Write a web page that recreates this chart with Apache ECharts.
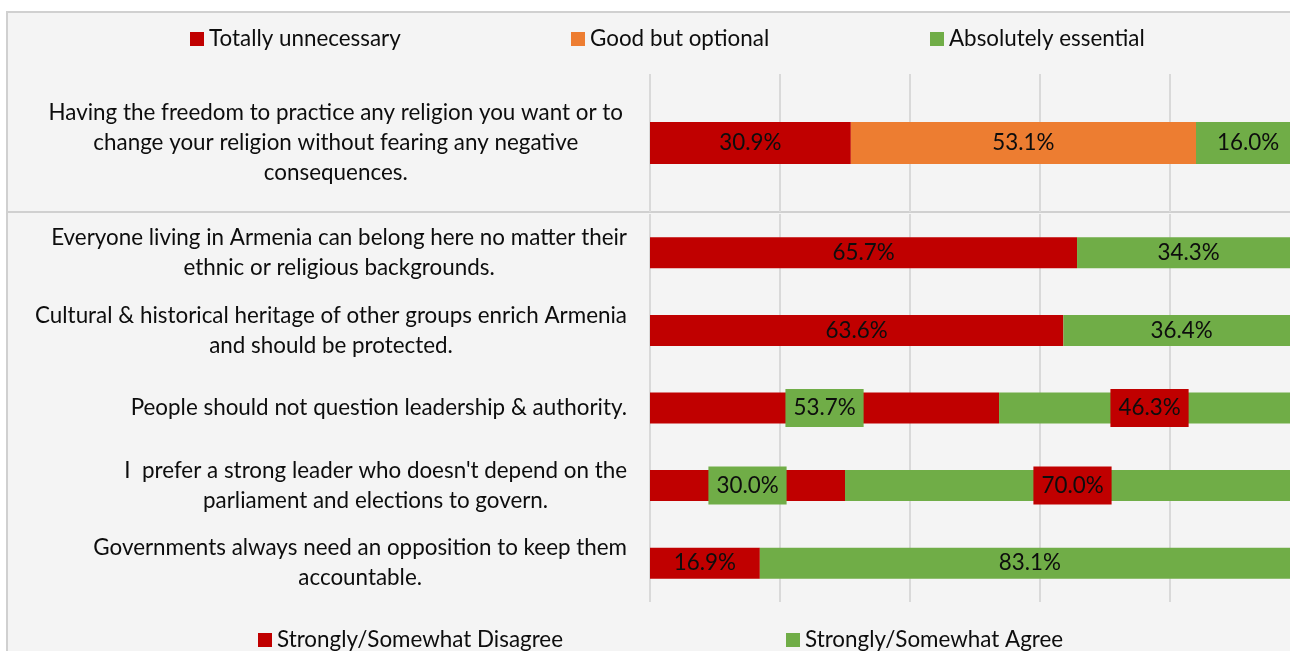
<!DOCTYPE html>
<html><head><meta charset="utf-8">
<script src="https://cdn.jsdelivr.net/npm/echarts@6/dist/echarts.min.js"></script>
<style>html,body{margin:0;padding:0;background:#fff;} #c{width:1290px;height:651px;}</style>
</head><body><div id="c"></div>
<script>
// ---- data ----
const topCategory = ['Having the freedom to practice any religion you want or to\nchange your religion without fearing any negative\nconsequences.'];
const topSeriesNames = ['Totally unnecessary', 'Good but optional', 'Absolutely essential'];
const topUnnecessary = [30.9];
const topOptional = [53.1];
const topEssential = [16.0];

const bottomCategories = [
  'Everyone living in Armenia can belong here no matter their\nethnic or religious backgrounds.',
  'Cultural & historical heritage of other groups enrich Armenia\nand should be protected.',
  'People should not question leadership & authority.',
  "I  prefer a strong leader who doesn't depend on the\nparliament and elections to govern.",
  'Governments always need an opposition to keep them\naccountable.'
];
const bottomSeriesNames = ['Strongly/Somewhat Disagree', 'Strongly/Somewhat Agree'];
const disagree = [65.7, 63.6, 53.7, 30.0, 16.9];
const agree = [34.3, 36.4, 46.3, 70.0, 83.1];
const swappedLabelRows = [2, 3];
const axisMin = 0, axisMax = 100, axisInterval = 20;

// ---- style ----
const RED = '#C00000', ORANGE = '#ED7D31', GREEN = '#70AD47';
const FONT = 'Lato';
const FS = 22.4;
const TXT = '#0d0d0d';
const GRIDC = '#d9d9d9';

const chart = echarts.init(document.getElementById('c'));

function catFormatter(v) {
  return v.split('\n').map(l => '{c|' + l + '}').join('\n');
}
const pct = p => Number(p.value).toFixed(1) + '%';

function xAxisCfg(idx) {
  return {
    type: 'value', gridIndex: idx, min: axisMin, max: axisMax, interval: axisInterval,
    axisLabel: {show: false}, axisTick: {show: false}, axisLine: {show: false},
    splitLine: {show: true, lineStyle: {color: GRIDC, width: 2}}
  };
}
function yAxisCfg(idx, cats, margin) {
  return {
    type: 'category', gridIndex: idx, data: cats, inverse: true,
    axisLine: {show: false}, axisTick: {show: false},
    axisLabel: {
      margin: margin, align: 'right', formatter: catFormatter,
      rich: {c: {align: 'center', fontSize: FS, lineHeight: 30, fontFamily: FONT, color: TXT}}
    }
  };
}
const barLabel = {show: true, position: 'inside', formatter: pct, color: TXT, fontSize: FS, fontFamily: FONT};

function swapped(values, bg) {
  return values.map((v, i) => swappedLabelRows.includes(i)
    ? {value: v, label: {backgroundColor: bg, padding: [5, 8], lineHeight: 28}}
    : v);
}

const legendBase = {
  icon: 'rect', itemWidth: 14, itemHeight: 14, padding: 0, selectedMode: false,
  textStyle: {fontSize: FS, fontFamily: FONT, color: TXT}
};

const option = {
  animation: false,
  backgroundColor: '#ffffff',
  graphic: [
    {type: 'rect', z: -10, shape: {x: 7, y: 12, width: 1300, height: 200},
     style: {fill: '#f4f4f4', stroke: '#d0d0d0', lineWidth: 2}},
    {type: 'rect', z: -10, shape: {x: 7, y: 212, width: 1300, height: 460},
     style: {fill: '#f4f4f4', stroke: '#d0d0d0', lineWidth: 2}}
  ],
  legend: [
    Object.assign({}, legendBase, {data: [topSeriesNames[0]], left: 190, top: 28}),
    Object.assign({}, legendBase, {data: [topSeriesNames[1]], left: 571, top: 28}),
    Object.assign({}, legendBase, {data: [topSeriesNames[2]], left: 930, top: 28}),
    Object.assign({}, legendBase, {data: [bottomSeriesNames[0]], left: 258, top: 629}),
    Object.assign({}, legendBase, {data: [bottomSeriesNames[1]], left: 786, top: 629})
  ],
  grid: [
    {left: 650, top: 74, width: 650, height: 138, outerBoundsMode: 'none', containLabel: false},
    {left: 650, top: 214, width: 650, height: 388, outerBoundsMode: 'none', containLabel: false}
  ],
  xAxis: [xAxisCfg(0), xAxisCfg(1)],
  yAxis: [yAxisCfg(0, topCategory, 27), yAxisCfg(1, bottomCategories, 23)],
  series: [
    {name: topSeriesNames[0], type: 'bar', stack: 't', xAxisIndex: 0, yAxisIndex: 0, barWidth: 42,
     itemStyle: {color: RED}, label: barLabel, data: topUnnecessary},
    {name: topSeriesNames[1], type: 'bar', stack: 't', xAxisIndex: 0, yAxisIndex: 0, barWidth: 42,
     itemStyle: {color: ORANGE}, label: barLabel, data: topOptional},
    {name: topSeriesNames[2], type: 'bar', stack: 't', xAxisIndex: 0, yAxisIndex: 0, barWidth: 42,
     itemStyle: {color: GREEN}, label: barLabel, data: topEssential},
    {name: bottomSeriesNames[0], type: 'bar', stack: 'b', xAxisIndex: 1, yAxisIndex: 1, barWidth: 31,
     itemStyle: {color: RED}, label: barLabel, data: swapped(disagree, GREEN)},
    {name: bottomSeriesNames[1], type: 'bar', stack: 'b', xAxisIndex: 1, yAxisIndex: 1, barWidth: 31,
     itemStyle: {color: GREEN}, label: barLabel, data: swapped(agree, RED)}
  ]
};
chart.setOption(option);
</script>
</body></html>
